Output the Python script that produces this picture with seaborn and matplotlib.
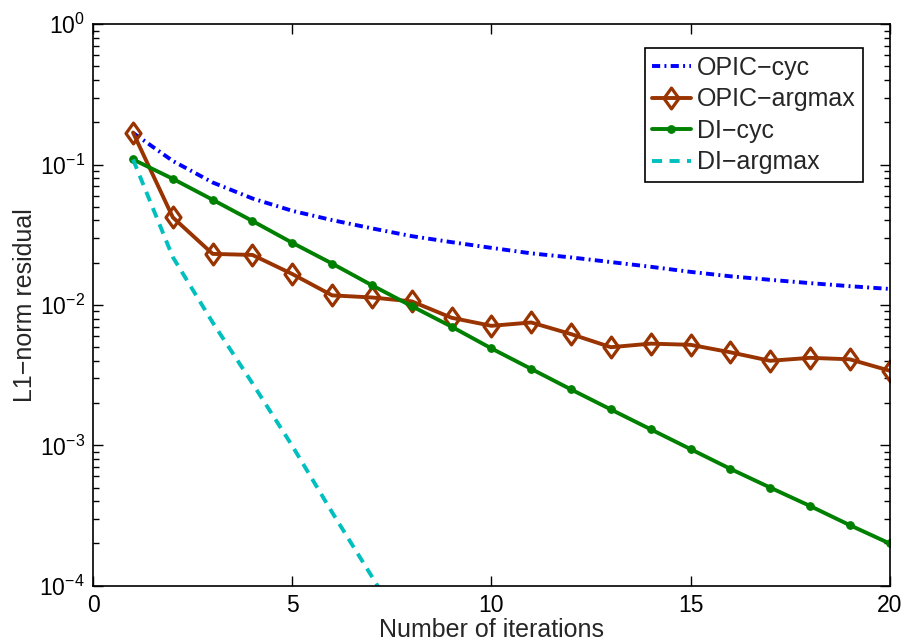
import numpy as np
import pandas as pd
import seaborn as sns
import matplotlib
matplotlib.use('Agg')
import matplotlib.pyplot as plt
from matplotlib.path import Path
from matplotlib.ticker import LogLocator, NullFormatter

# iteraciones
iters = list(range(1, 21))

opic_cyc = [0.168, 0.106, 0.0745, 0.0573, 0.0468, 0.0402, 0.0351, 0.0309, 0.0280, 0.0255,
            0.0233, 0.0218, 0.0202, 0.0187, 0.0172, 0.0160, 0.0151, 0.0143, 0.0136, 0.0130]
opic_argmax = [0.169, 0.042, 0.0231, 0.0227, 0.0166, 0.0117, 0.0113, 0.0106, 0.0081, 0.0071,
               0.0075, 0.0062, 0.0050, 0.0053, 0.0052, 0.0046, 0.0040, 0.0042, 0.0041, 0.0034]
di_cyc = [0.1087, 0.0791, 0.0561, 0.0396, 0.0277, 0.0197, 0.0138, 0.0098, 0.0070, 0.0049,
          0.0035, 0.0025, 0.0018, 0.0013, 0.00094, 0.00068, 0.00050, 0.00037, 0.00027, 0.00020]
iters_di_argmax = [1, 2, 3, 4, 5, 6, 7, 8]
di_argmax = [0.1087, 0.0219, 0.0075, 0.00276, 0.00099, 0.000333, 0.000116, 0.00004]

labels = ['OPIC\u2212cyc', 'OPIC\u2212argmax', 'DI\u2212cyc', 'DI\u2212argmax']

sns.set_style('ticks')
plt.rcParams['font.family'] = ['Liberation Sans', 'DejaVu Sans']
plt.rcParams['mathtext.fontset'] = 'custom'
plt.rcParams['mathtext.rm'] = 'Liberation Sans'
plt.rcParams['axes.unicode_minus'] = True

# diamante estilo matlab (un poco mas ancho que 'd')
diamante = Path([(0, 1), (0.72, 0), (0, -1), (-0.72, 0), (0, 1)],
                [Path.MOVETO, Path.LINETO, Path.LINETO, Path.LINETO, Path.CLOSEPOLY])

fig = plt.figure(figsize=(9.05, 6.44), dpi=100)
ax = fig.add_axes([0.103, 0.0905, 0.880, 0.872])

lw = 2.8
sns.lineplot(x=iters, y=opic_cyc, ax=ax, color='#0000ff', linestyle=(0, (2.1, 1.1, 0.5, 1.1)),
             linewidth=lw, label=labels[0])
sns.lineplot(x=iters, y=opic_argmax, ax=ax, color='#993300', linewidth=lw, marker=diamante,
             markersize=15, markerfacecolor='none', markeredgecolor='#993300',
             markeredgewidth=2.3, label=labels[1])
sns.lineplot(x=iters, y=di_cyc, ax=ax, color='#008000', linewidth=lw, marker='o',
             markersize=5.5, markeredgecolor='#008000', label=labels[2])
sns.lineplot(x=iters_di_argmax, y=di_argmax, ax=ax, color='#00bfbf', linestyle=(0, (2.6, 1.9)),
             linewidth=lw, label=labels[3])

ax.set_yscale('log')
ax.set_xlim(0, 20)
ax.set_ylim(1e-4, 1)
ax.set_xticks([0, 5, 10, 15, 20])
ax.yaxis.set_major_locator(LogLocator(base=10, numticks=10))
ax.yaxis.set_minor_locator(LogLocator(base=10, subs=np.arange(2, 10), numticks=50))
ax.yaxis.set_minor_formatter(NullFormatter())
ax.tick_params(which='both', direction='in', top=True, right=True, labelsize=16.5,
               colors='black', width=1)
ax.tick_params(which='major', length=7)
ax.tick_params(which='minor', length=4)
ax.tick_params(axis='x', pad=6)
ax.tick_params(axis='y', pad=6)
for s in ax.spines.values():
    s.set_visible(True)
    s.set_color('black')
    s.set_linewidth(1.2)

ax.set_xlabel('Number of iterations', fontsize=18, labelpad=1)
ax.set_ylabel('L1\u2212norm residual', fontsize=18, labelpad=2)

leg = ax.legend(loc='upper right', fontsize=18, frameon=True, fancybox=False,
                edgecolor='black', framealpha=1, handlelength=1.55, borderpad=0.3,
                labelspacing=0.3, handletextpad=0.25, borderaxespad=0,
                bbox_to_anchor=(0.967, 0.957))
leg.get_frame().set_linewidth(1.2)

fig.savefig('out.png', dpi=100)
